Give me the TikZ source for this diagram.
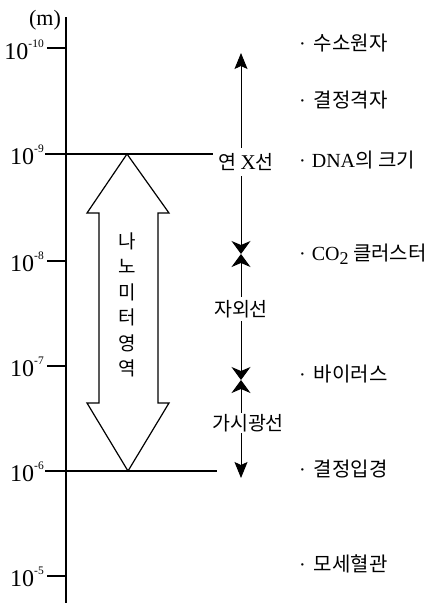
\documentclass[tikz,border=0pt]{standalone}
\usepackage{fontspec}
\setmainfont{Liberation Serif}
\newfontfamily\kr{Noto Sans CJK KR}
\usetikzlibrary{arrows.meta}
\newcommand{\tenexp}[1]{{\fontsize{24}{24}\selectfont 10}\raisebox{11.5pt}{\fontsize{11.5}{11.5}\selectfont #1}}
\tikzset{
  axisline/.style={line width=2pt},
  rngline/.style={line width=1pt},
  ticklab/.style={anchor=base east, inner sep=0pt},
  itemlab/.style={anchor=base west, inner sep=0pt, font=\fontsize{20}{20}\selectfont},
  rnglab/.style={fill=white, inner sep=1.5pt, font=\kr\fontsize{19.5}{19.5}\selectfont},
  marktip/.tip={Stealth[length=13pt,width=19pt,inset=4pt]},
  endtip/.tip={Stealth[length=16pt,width=13pt,inset=3pt]},
}
\begin{document}
\begin{tikzpicture}[x=1pt,y=-1pt]
\useasboundingbox (0,0) rectangle (443,606);
% axis
\coordinate (atop) at (66,17);
\coordinate (abot) at (66,603);
\draw[axisline] (atop) -- (abot);
\node[font=\fontsize{22}{22}\selectfont, inner sep=0pt] (unit) at (45,20) {(m)};
% ticks
\coordinate (t10a) at (47,48);  \coordinate (t10b) at (66,48);
\coordinate (t9a) at (45,154);  \coordinate (t9b) at (213,154);
\coordinate (t8a) at (47,261);  \coordinate (t8b) at (66,261);
\coordinate (t7a) at (47,366);  \coordinate (t7b) at (66,366);
\coordinate (t6a) at (45,471);  \coordinate (t6b) at (217,471);
\coordinate (t5a) at (47,576);  \coordinate (t5b) at (66,576);
\draw[axisline] (t10a) -- (t10b);
\draw[axisline] (t9a) -- (t9b);
\draw[axisline] (t8a) -- (t8b);
\draw[axisline] (t7a) -- (t7b);
\draw[axisline] (t6a) -- (t6b);
\draw[axisline] (t5a) -- (t5b);
\node[ticklab] (l10) at (44,59) {\tenexp{-10}};
\node[ticklab] (l9) at (44,164) {\tenexp{-9}};
\node[ticklab] (l8) at (44,271) {\tenexp{-8}};
\node[ticklab] (l7) at (44,376) {\tenexp{-7}};
\node[ticklab] (l6) at (44,481) {\tenexp{-6}};
\node[ticklab] (l5) at (44,586) {\tenexp{-5}};
% big double arrow
\draw[line width=1.2pt, line join=miter] (127,154) -- (169,213) -- (158,213) -- (158,403) -- (169,403)
  -- (128,471) -- (87,403) -- (99,403) -- (99,213) -- (87,213) -- cycle;
\node[font=\kr\fontsize{19}{25.5}\selectfont, align=center, inner sep=0pt] (nano) at (127,305)
  {나\\노\\미\\터\\영\\역};
% range arrows
\coordinate (xtop) at (241,53);
\coordinate (m1) at (241,254);
\coordinate (m2) at (241,380);
\coordinate (vbot) at (241,478);
\draw[rngline, marktip-endtip] (m1) -- (xtop);
\draw[rngline, marktip-marktip] (m1) -- (m2);
\draw[rngline, marktip-endtip] (m2) -- (vbot);
\node[rnglab, inner ysep=5pt] (xray) at (246,162) {연 {\rmfamily\fontsize{21}{21}\selectfont X}선};
\node[rnglab, inner ysep=3pt] (uv) at (241,309) {자외선};
\node[rnglab] (vis) at (248,423) {가시광선};
% items
\node[itemlab] (i1) at (299,50) {·\hspace{8pt}{\kr 수소원자}};
\node[itemlab] (i2) at (299,107) {·\hspace{8pt}{\kr 결정격자}};
\node[itemlab] (i3) at (299,167) {·\hspace{6pt}DNA{\kr 의 크기}};
\node[itemlab] (i4) at (299,260) {·\hspace{6pt}CO\textsubscript{\fontsize{18}{18}\selectfont 2}\hspace{4pt}{\kr 클러스터}};
\node[itemlab] (i5) at (299,381) {·\hspace{8pt}{\kr 바이러스}};
\node[itemlab] (i6) at (299,476) {·\hspace{8pt}{\kr 결정입경}};
\node[itemlab] (i7) at (299,571) {·\hspace{8pt}{\kr 모세혈관}};
\end{tikzpicture}
\end{document}
